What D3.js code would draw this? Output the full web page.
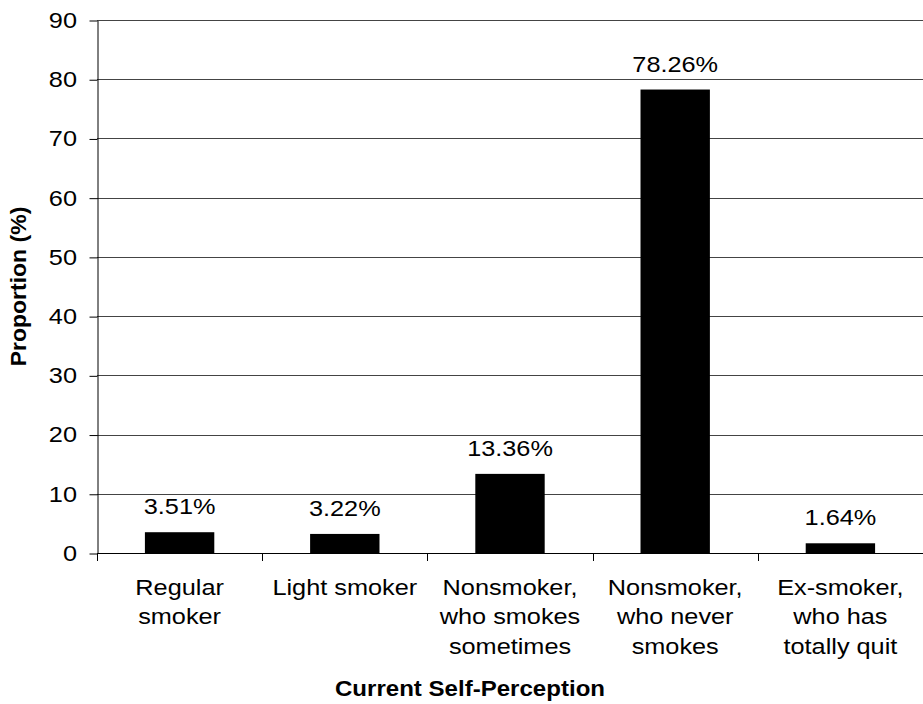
<!DOCTYPE html>
<html lang="en">
<head>
    <meta charset="utf-8">
    <title>Current Self-Perception</title>
    <script type="text/javascript" src="https://d3js.org/d3.v7.min.js"></script>
    <style type="text/css">
        body { margin: 0; background: #fff; }
        text { font-family: "Liberation Sans", Arial, sans-serif; fill: #000; }
    </style>
</head>
<body>
<svg width="923" height="704"></svg>
<script type="text/javascript">

    // data
    const categories = [
        ["Regular", "smoker"],
        ["Light smoker"],
        ["Nonsmoker,", "who smokes", "sometimes"],
        ["Nonsmoker,", "who never", "smokes"],
        ["Ex-smoker,", "who has", "totally quit"]
    ];
    const values = [3.51, 3.22, 13.36, 78.26, 1.64];
    const yTicks = [0, 10, 20, 30, 40, 50, 60, 70, 80, 90];

    const svg = d3.select("svg");
    const width = 923;
    const height = 704;
    const margin = {top: 20, right: 0, bottom: 151, left: 97};
    const stretch = 1.15; // the original text is a bit wide

    const x = d3.scaleBand()
        .domain(d3.range(values.length))
        .range([margin.left, width - margin.right])
        .paddingInner(0.58)
        .paddingOuter(0.29);

    const y = d3.scaleLinear()
        .domain([0, 90])
        .range([height - margin.bottom, margin.top]);

    // gridlines
    svg.append("g")
        .selectAll("line")
        .data(yTicks.filter(d => d > 0))
        .join("line")
        .attr("x1", margin.left)
        .attr("x2", width - margin.right)
        .attr("y1", d => Math.round(y(d)) + 0.5)
        .attr("y2", d => Math.round(y(d)) + 0.5)
        .style("stroke", "#444")
        .style("stroke-width", 1);

    // y axis: line + ticks, labels drawn by hand so they can be stretched
    const yAxis = svg.append("g")
        .attr("transform", "translate(" + (margin.left + 0.5) + ",0.5)")
        .call(d3.axisLeft(y).tickValues(yTicks).tickSize(8).tickSizeOuter(0).tickFormat(""));
    yAxis.selectAll("line, path").style("stroke", "#000");

    svg.append("g")
        .selectAll("g")
        .data(yTicks)
        .join("g")
        .attr("transform", d => "translate(77," + y(d) + ") scale(" + stretch + ",1)")
        .append("text")
        .attr("text-anchor", "end")
        .attr("dy", "0.36em")
        .style("font-size", "22px")
        .text(d => d);

    // bars
    svg.append("g")
        .selectAll("rect")
        .data(values)
        .join("rect")
        .attr("x", (d, i) => x(i))
        .attr("width", x.bandwidth())
        .attr("y", d => y(d))
        .attr("height", d => y(0) - y(d))
        .style("fill", "#000");

    // value labels
    svg.append("g")
        .selectAll("g")
        .data(values)
        .join("g")
        .attr("transform", (d, i) => "translate(" + (x(i) + x.bandwidth() / 2) + "," + (y(d) - 18) + ") scale(" + stretch + ",1)")
        .append("text")
        .attr("text-anchor", "middle")
        .style("font-size", "22px")
        .text(d => d.toFixed(2) + "%");

    // x axis with ticks at category boundaries
    const step = x.step();
    const xAxis = svg.append("g");
    xAxis.append("line")
        .attr("x1", margin.left)
        .attr("x2", width)
        .attr("y1", Math.round(y(0)) + 0.5)
        .attr("y2", Math.round(y(0)) + 0.5)
        .style("stroke", "#000");
    xAxis.selectAll(".tick")
        .data(d3.range(values.length + 1))
        .join("line")
        .attr("class", "tick")
        .attr("x1", i => Math.round(margin.left + i * step) + 0.5)
        .attr("x2", i => Math.round(margin.left + i * step) + 0.5)
        .attr("y1", Math.round(y(0)))
        .attr("y2", Math.round(y(0)) + 8)
        .style("stroke", "#000");

    // category labels
    const lab = svg.append("g")
        .selectAll("text")
        .data(categories)
        .join("text")
        .attr("text-anchor", "middle")
        .style("font-size", "22px")
        .attr("transform", (d, i) => "translate(" + (x(i) + x.bandwidth() / 2) + "," + (y(0) + 42) + ") scale(" + stretch + ",1)");
    lab.selectAll("tspan")
        .data(d => d)
        .join("tspan")
        .attr("x", 0)
        .attr("dy", (d, i) => i === 0 ? 0 : 29.5)
        .text(d => d);

    // axis titles
    svg.append("text")
        .attr("transform", "translate(" + (margin.left + (width - margin.left) / 2 - 40) + ",696) scale(1.12,1)")
        .attr("text-anchor", "middle")
        .style("font-size", "21.5px")
        .style("font-weight", "bold")
        .text("Current Self-Perception");

    svg.append("text")
        .attr("transform", "translate(26," + ((margin.top + y(0)) / 2) + ") rotate(-90) scale(1.07,1)")
        .attr("text-anchor", "middle")
        .style("font-size", "21.5px")
        .style("font-weight", "bold")
        .text("Proportion (%)");

</script>
</body>
</html>
